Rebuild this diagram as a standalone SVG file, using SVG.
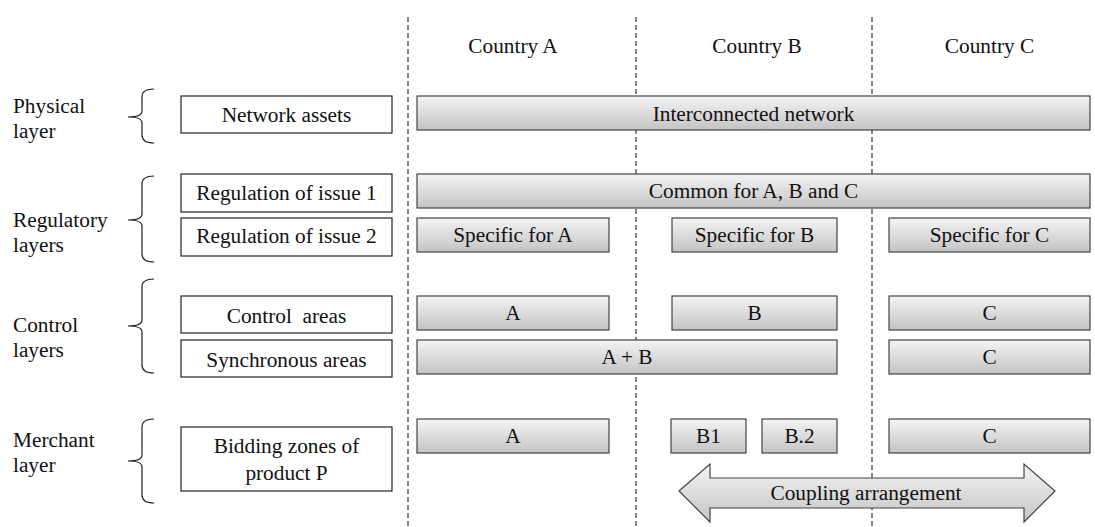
<svg xmlns="http://www.w3.org/2000/svg" width="1095" height="527" viewBox="0 0 1095 527">
<defs>
<linearGradient id="g" x1="0" y1="0" x2="0" y2="1">
<stop offset="0" stop-color="#f4f4f4"/>
<stop offset="1" stop-color="#c4c4c4"/>
</linearGradient>
<style>
text{font-family:"Liberation Serif","Times New Roman",serif;font-size:21.3px;fill:#111}
.c{text-anchor:middle}
.w{fill:#fff;stroke:#222;stroke-width:1.2}
.gr{fill:url(#g);stroke:#444;stroke-width:1.2}
.br{fill:none;stroke:#222;stroke-width:1.2}
.d{stroke:#222;stroke-width:1.1;stroke-dasharray:5 3}
</style>
</defs>
<rect width="1095" height="527" fill="#fff"/>
<g id="dividers">
<line class="d" x1="408" y1="17" x2="408" y2="527"/>
<line class="d" x1="636" y1="17" x2="636" y2="527"/>
<line class="d" x1="872" y1="17" x2="872" y2="527"/>
</g>
<g id="countries">
<text class="c" x="513" y="53">Country A</text>
<text class="c" x="757" y="53">Country B</text>
<text class="c" x="989.5" y="53">Country C</text>
</g>
<g id="layer-labels">
<text x="13" y="113">Physical</text><text x="13" y="138">layer</text>
<text x="13" y="227">Regulatory</text><text x="13" y="252">layers</text>
<text x="13" y="332">Control</text><text x="13" y="357">layers</text>
<text x="13" y="447">Merchant</text><text x="13" y="472">layer</text>
</g>
<g id="braces">
<path class="br" d="M154,89 Q142,89 142,97 L142,111 Q142,117 128,117 Q142,117 142,123 L142,135 Q142,143 154,143"/>
<path class="br" d="M154,176 Q142,176 142,184 L142,214 Q142,220 128,220 Q142,220 142,226 L142,254 Q142,262 154,262"/>
<path class="br" d="M154,279 Q142,279 142,287 L142,320 Q142,326 128,326 Q142,326 142,332 L142,365 Q142,373 154,373"/>
<path class="br" d="M154,419 Q142,419 142,427 L142,455 Q142,461 128,461 Q142,461 142,467 L142,495 Q142,503 154,503"/>
</g>
<g id="n-network-assets"><rect class="w" x="181" y="96" width="211" height="37"/><text class="c" x="286.5" y="122">Network assets</text></g>
<g id="n-interconnected"><rect class="gr" x="417" y="96" width="673" height="34"/><text class="c" x="753.5" y="121">Interconnected network</text></g>
<g id="n-reg1"><rect class="w" x="181" y="174" width="211" height="38"/><text class="c" x="286.5" y="200">Regulation of issue 1</text></g>
<g id="n-reg2"><rect class="w" x="181" y="218" width="211" height="38"/><text class="c" x="286.5" y="243">Regulation of issue 2</text></g>
<g id="n-common"><rect class="gr" x="417" y="174" width="673" height="34"/><text class="c" x="753.5" y="198">Common for A, B and C</text></g>
<g id="n-specA"><rect class="gr" x="417" y="218" width="192" height="34"/><text class="c" x="513" y="242">Specific for A</text></g>
<g id="n-specB"><rect class="gr" x="672" y="218" width="165" height="34"/><text class="c" x="754.5" y="242">Specific for B</text></g>
<g id="n-specC"><rect class="gr" x="889" y="218" width="201" height="34"/><text class="c" x="989.5" y="242">Specific for C</text></g>
<g id="n-control"><rect class="w" x="181" y="296" width="211" height="37"/><text class="c" x="286.5" y="323" xml:space="preserve">Control  areas</text></g>
<g id="n-sync"><rect class="w" x="181" y="340" width="211" height="37"/><text class="c" x="286.5" y="367">Synchronous areas</text></g>
<g id="n-ctrlA"><rect class="gr" x="417" y="296" width="192" height="34"/><text class="c" x="513" y="320">A</text></g>
<g id="n-ctrlB"><rect class="gr" x="672" y="296" width="165" height="34"/><text class="c" x="754.5" y="320">B</text></g>
<g id="n-ctrlC"><rect class="gr" x="889" y="296" width="201" height="34"/><text class="c" x="989.5" y="320">C</text></g>
<g id="n-syncAB"><rect class="gr" x="417" y="340" width="420" height="34"/><text class="c" x="627" y="364">A + B</text></g>
<g id="n-syncC"><rect class="gr" x="889" y="340" width="201" height="34"/><text class="c" x="989.5" y="364">C</text></g>
<g id="n-bidding"><rect class="w" x="181" y="427" width="211" height="64"/><text class="c" x="286.5" y="453">Bidding zones of</text><text class="c" x="286.5" y="480">product P</text></g>
<g id="n-bzA"><rect class="gr" x="417" y="419" width="192" height="34"/><text class="c" x="513" y="443">A</text></g>
<g id="n-bzB1"><rect class="gr" x="671" y="419" width="75" height="34"/><text class="c" x="708.5" y="443">B1</text></g>
<g id="n-bzB2"><rect class="gr" x="762" y="419" width="75" height="34"/><text class="c" x="799.5" y="443">B.2</text></g>
<g id="n-bzC"><rect class="gr" x="889" y="419" width="201" height="34"/><text class="c" x="989.5" y="443">C</text></g>
<g id="connectors">
<g id="n-coupling">
<polygon class="gr" points="679,491 710,464 710,478 1024,478 1024,464 1055,491 1024,522 1024,508 710,508 710,522"/>
<text class="c" x="866" y="500">Coupling arrangement</text>
</g>
</g>
</svg>
